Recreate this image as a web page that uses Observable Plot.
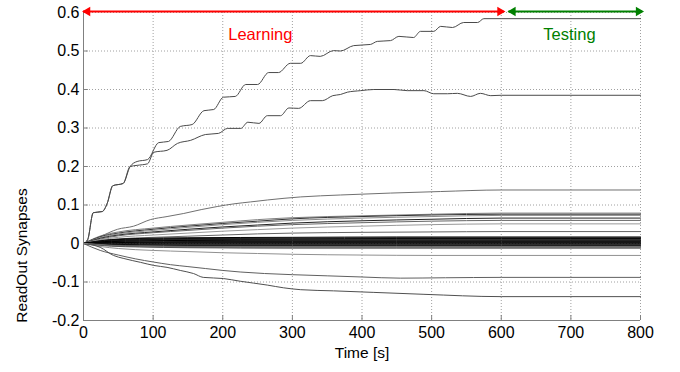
<!DOCTYPE html>
<html>
<head>
<meta charset="utf-8">
<script src="https://cdn.jsdelivr.net/npm/d3@7"></script>
<script src="https://cdn.jsdelivr.net/npm/@observablehq/plot@0.6"></script>
<style>
  html, body { margin: 0; padding: 0; background: #fff; }
  #chart { width: 680px; height: 372px; }
</style>
</head>
<body>
<div id="chart"></div>
<script>
// ---- Axis ticks ----
const xTicks = [0, 100, 200, 300, 400, 500, 600, 700, 800];
const xTickLabels = ["0", "100", "200", "300", "400", "500", "600", "700", "800"];
const yTicks = [-0.2, -0.1, 0, 0.1, 0.2, 0.3, 0.4, 0.5, 0.6];
const yTickLabels = ["-0.2", "-0.1", "0", "0.1", "0.2", "0.3", "0.4", "0.5", "0.6"];

// ---- Phases ----
const phaseLabels = ["Learning", "Testing"];
const learningSpan = [0, 604];
const testingSpan = [611, 803];

// ---- Synapse weight trajectories (time [s], weight) ----
const topTimes = [0, 6, 14, 27, 34, 42, 57, 67, 77, 92, 108, 122, 139, 156, 173, 187, 201, 218, 233, 250, 266, 280, 297, 312, 326, 340, 359, 369, 388, 412, 422, 441, 453, 474, 484, 503, 513, 530, 546, 566, 575, 600, 800];
const topValues = [0, 0.01, 0.08, 0.083, 0.104, 0.15, 0.156, 0.2, 0.213, 0.218, 0.262, 0.265, 0.304, 0.309, 0.345, 0.348, 0.38, 0.382, 0.413, 0.413, 0.444, 0.444, 0.468, 0.468, 0.488, 0.486, 0.501, 0.5, 0.514, 0.517, 0.525, 0.527, 0.538, 0.535, 0.551, 0.551, 0.564, 0.561, 0.574, 0.574, 0.584, 0.584, 0.584];

const secondTimes = [0, 6, 14, 27, 34, 42, 57, 67, 77, 92, 101, 120, 135, 154, 175, 194, 207, 226, 236, 252, 264, 283, 295, 309, 326, 343, 358, 369, 379, 398, 417, 446, 465, 489, 503, 523, 537, 556, 570, 585, 600, 800];
const secondValues = [0, 0.01, 0.08, 0.083, 0.104, 0.15, 0.156, 0.2, 0.203, 0.207, 0.237, 0.242, 0.26, 0.268, 0.283, 0.286, 0.299, 0.299, 0.315, 0.312, 0.332, 0.332, 0.352, 0.351, 0.371, 0.371, 0.384, 0.387, 0.393, 0.397, 0.4, 0.4, 0.397, 0.397, 0.389, 0.389, 0.39, 0.382, 0.39, 0.384, 0.385, 0.385];

const thirdTimes = [0, 24, 49, 72, 96, 120, 144, 169, 192, 216, 240, 264, 312, 369, 441, 513, 600, 800];
const thirdValues = [0, 0.018, 0.037, 0.045, 0.062, 0.07, 0.078, 0.088, 0.096, 0.103, 0.108, 0.113, 0.121, 0.126, 0.131, 0.135, 0.139, 0.139];

const bundleTimes = [0, 25, 50, 100, 150, 200, 250, 300, 400, 500, 600, 800];
const bundleA = [0, 0.02, 0.03, 0.04, 0.048, 0.055, 0.062, 0.067, 0.072, 0.076, 0.079, 0.079];
const bundleB = [0, 0.018, 0.027, 0.037, 0.045, 0.052, 0.058, 0.064, 0.07, 0.074, 0.076, 0.076];
const bundleC = [0, 0.016, 0.025, 0.034, 0.042, 0.049, 0.055, 0.06, 0.066, 0.07, 0.073, 0.073];
const bundleD = [0, 0.014, 0.022, 0.03, 0.037, 0.043, 0.048, 0.053, 0.059, 0.063, 0.066, 0.066];
const bundleE = [0, 0.012, 0.02, 0.028, 0.034, 0.04, 0.045, 0.049, 0.054, 0.058, 0.06, 0.06];
const bundleF = [0, 0.01, 0.016, 0.022, 0.027, 0.032, 0.036, 0.04, 0.045, 0.049, 0.051, 0.051];
const bundleG = [0, 0.008, 0.012, 0.016, 0.019, 0.022, 0.025, 0.027, 0.029, 0.03, 0.031, 0.031];
const bundleH = [0, -0.008, -0.013, -0.018, -0.021, -0.024, -0.026, -0.028, -0.03, -0.031, -0.031, -0.031];

const negUpperTimes = [0, 24, 50, 75, 100, 125, 150, 175, 200, 225, 260, 300, 350, 400, 455, 520, 600, 800];
const negUpperValues = [0, -0.018, -0.03, -0.04, -0.048, -0.055, -0.06, -0.065, -0.07, -0.074, -0.078, -0.081, -0.084, -0.087, -0.09, -0.089, -0.088, -0.088];

const negLowerTimes = [0, 24, 43, 58, 82, 101, 120, 139, 158, 172, 201, 225, 264, 287, 312, 359, 417, 489, 600, 800];
const negLowerValues = [0, -0.01, -0.031, -0.039, -0.049, -0.057, -0.062, -0.07, -0.078, -0.088, -0.091, -0.098, -0.108, -0.115, -0.12, -0.123, -0.127, -0.132, -0.138, -0.138];

const bandTimes = [0, 20, 40, 80, 150, 300, 450, 600, 800];
const band01 = [0, 0.006, 0.010, 0.013, 0.015, 0.016, 0.017, 0.017, 0.017];
const band02 = [0, 0.005, 0.009, 0.012, 0.013, 0.014, 0.015, 0.015, 0.015];
const band03 = [0, 0.004, 0.008, 0.010, 0.011, 0.012, 0.013, 0.013, 0.013];
const band04 = [0, 0.004, 0.007, 0.009, 0.010, 0.011, 0.011, 0.011, 0.011];
const band05 = [0, 0.003, 0.006, 0.007, 0.008, 0.009, 0.009, 0.009, 0.009];
const band06 = [0, 0.003, 0.005, 0.006, 0.007, 0.007, 0.007, 0.007, 0.007];
const band07 = [0, 0.002, 0.003, 0.004, 0.005, 0.005, 0.005, 0.005, 0.005];
const band08 = [0, 0.001, 0.002, 0.003, 0.003, 0.003, 0.003, 0.003, 0.003];
const band09 = [0, 0.001, 0.001, 0.001, 0.001, 0.001, 0.001, 0.001, 0.001];
const band10 = [0, 0, -0.001, -0.001, -0.001, -0.001, -0.001, -0.001, -0.001];
const band11 = [0, -0.001, -0.002, -0.003, -0.003, -0.003, -0.003, -0.003, -0.003];
const band12 = [0, -0.002, -0.003, -0.004, -0.005, -0.005, -0.005, -0.005, -0.005];
const band13 = [0, -0.002, -0.004, -0.006, -0.007, -0.007, -0.007, -0.007, -0.007];
const band14 = [0, -0.003, -0.005, -0.007, -0.008, -0.009, -0.009, -0.009, -0.009];
const band15 = [0, -0.003, -0.006, -0.008, -0.010, -0.011, -0.011, -0.011, -0.011];
const band16 = [0, -0.004, -0.007, -0.009, -0.011, -0.012, -0.012, -0.012, -0.012];

// ---- Assemble series table ----
const seriesList = [
  {name: "top", t: topTimes, v: topValues},
  {name: "second", t: secondTimes, v: secondValues},
  {name: "third", t: thirdTimes, v: thirdValues},
  {name: "A", t: bundleTimes, v: bundleA},
  {name: "B", t: bundleTimes, v: bundleB},
  {name: "C", t: bundleTimes, v: bundleC},
  {name: "D", t: bundleTimes, v: bundleD},
  {name: "E", t: bundleTimes, v: bundleE},
  {name: "F", t: bundleTimes, v: bundleF},
  {name: "G", t: bundleTimes, v: bundleG},
  {name: "H", t: bundleTimes, v: bundleH},
  {name: "negUpper", t: negUpperTimes, v: negUpperValues},
  {name: "negLower", t: negLowerTimes, v: negLowerValues},
  ...[band01, band02, band03, band04, band05, band06, band07, band08, band09, band10, band11, band12, band13, band14, band15, band16]
    .map((v, i) => ({name: "band" + (i + 1), t: bandTimes, v}))
];
const rows = seriesList.flatMap(s => s.t.map((t, i) => ({series: s.name, t, v: s.v[i]})));

const seriesColor = {
  top: "#4a4a4a", second: "#4a4a4a", third: "#707070",
  A: "#808080", B: "#333", C: "#8a8a8a", D: "#222", E: "#666", F: "#999", G: "#666", H: "#909090",
  negUpper: "#606060", negLower: "#505050",
  band1: "#000", band2: "#111", band3: "#000", band4: "#222", band5: "#000", band6: "#000",
  band7: "#111", band8: "#000", band9: "#000", band10: "#000", band11: "#222", band12: "#000",
  band13: "#444", band14: "#666", band15: "#777", band16: "#555"
};

const fontFamily = "'Liberation Sans', Arial, Helvetica, sans-serif";

const chart = Plot.plot({
  width: 680,
  height: 372,
  marginLeft: 83,
  marginRight: 40,
  marginTop: 12,
  marginBottom: 52,
  style: {fontFamily, fontSize: "16px", background: "#fff", color: "#000"},
  x: {domain: [0, 800], ticks: xTicks, tickFormat: d => xTickLabels[xTicks.indexOf(d)], tickSize: 0, tickPadding: 6, label: null},
  y: {domain: [-0.2, 0.6], ticks: yTicks, tickFormat: d => yTickLabels[yTicks.indexOf(d)], tickSize: 0, tickPadding: 4, label: null},
  color: {type: "ordinal", domain: Object.keys(seriesColor), range: Object.values(seriesColor)},
  marks: [
    // dotted grid
    Plot.ruleX(xTicks.filter(d => d > 0), {stroke: "#a0a0a0", strokeDasharray: "1,2", strokeWidth: 1}),
    Plot.ruleY(yTicks.filter(d => d > -0.2), {stroke: "#a0a0a0", strokeDasharray: "1,2", strokeWidth: 1}),
    // synapse trajectories
    Plot.line(rows, {x: "t", y: "v", z: "series", stroke: "series", strokeWidth: 1, curve: "monotone-x"}),
    // axis lines
    Plot.ruleX([0], {stroke: "#808080", strokeWidth: 1}),
    Plot.ruleY([-0.2], {stroke: "#808080", strokeWidth: 1}),
    // inward ticks
    Plot.ruleX(xTicks, {y1: -0.2, y2: -0.187, stroke: "#808080"}),
    Plot.ruleY(yTicks, {x1: 0, x2: 7, stroke: "#808080"}),
    // phase arrows
    Plot.ruleY([0.6], {x1: learningSpan[0], x2: learningSpan[1], stroke: "#ff0000", strokeWidth: 2, dy: -1}),
    Plot.dot([learningSpan[0]], {x: d => d, y: 0.6, symbol: "triangle", rotate: -90, r: 3.5, fill: "#ff0000", stroke: "none", dx: 4, dy: -1}),
    Plot.dot([learningSpan[1]], {x: d => d, y: 0.6, symbol: "triangle", rotate: 90, r: 3.5, fill: "#ff0000", stroke: "none", dx: -4, dy: -1}),
    Plot.ruleY([0.6], {x1: testingSpan[0], x2: testingSpan[1], stroke: "#008000", strokeWidth: 2, dy: -1}),
    Plot.dot([testingSpan[0]], {x: d => d, y: 0.6, symbol: "triangle", rotate: -90, r: 3.5, fill: "#008000", stroke: "none", dx: 4, dy: -1}),
    Plot.dot([testingSpan[1]], {x: d => d, y: 0.6, symbol: "triangle", rotate: 90, r: 3.5, fill: "#008000", stroke: "none", dx: -4, dy: -1}),
    // phase labels
    Plot.text([phaseLabels[0]], {x: 254, y: 0.543, text: d => d, fill: "#ff0000", fontSize: 16.5}),
    Plot.text([phaseLabels[1]], {x: 698, y: 0.543, text: d => d, fill: "#008000", fontSize: 16.5}),
    // axis titles
    Plot.text(["Time [s]"], {frameAnchor: "bottom", text: d => d, textAnchor: "middle", lineAnchor: "middle", dy: 33, fontSize: 15.5}),
    Plot.text(["ReadOut Synapses"], {frameAnchor: "left", text: d => d, textAnchor: "middle", lineAnchor: "middle", rotate: -90, dx: -61, dy: 89, fontSize: 15.5})
  ]
});

document.getElementById("chart").appendChild(chart);
</script>
</body>
</html>
